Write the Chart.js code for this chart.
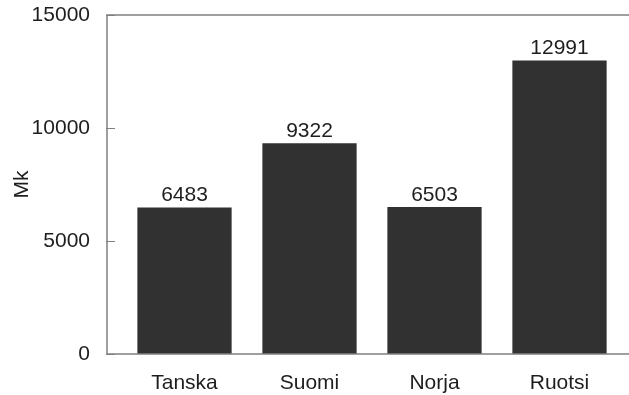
<!DOCTYPE html>
<html>
<head>
<meta charset="utf-8">
<script src="https://cdn.jsdelivr.net/npm/chart.js@4/dist/chart.umd.min.js"></script>
<style>
  html, body { margin: 0; padding: 0; background: #fff; }
  #wrap { width: 629px; height: 395px; }
</style>
</head>
<body>
<div id="wrap"><canvas id="c" width="629" height="395"></canvas></div>
<script>
// Data
const categories = ['Tanska', 'Suomi', 'Norja', 'Ruotsi'];
const values = [6483, 9322, 6503, 12991];
const yTicks = [0, 5000, 10000, 15000];
const yTitle = 'Mk';

const FONT = "'Liberation Sans', Arial, Helvetica, sans-serif";
const TEXT = '#1e1e1e';
const FRAME = '#808080';

// Frame (left, top, bottom lines) plus short inward tick marks
const framePlugin = {
  id: 'frame',
  afterDatasetsDraw(chart) {
    const { ctx, chartArea: a, scales } = chart;
    ctx.save();
    ctx.strokeStyle = FRAME;
    ctx.lineWidth = 1.5;
    ctx.beginPath();
    ctx.moveTo(a.right, a.top);
    ctx.lineTo(a.left, a.top);
    ctx.lineTo(a.left, a.bottom);
    ctx.lineTo(a.right, a.bottom);
    ctx.stroke();
    ctx.lineWidth = 1;
    yTicks.forEach(v => {
      const y = Math.round(scales.y.getPixelForValue(v)) + 0.5;
      ctx.beginPath();
      ctx.moveTo(a.left - 1, y);
      ctx.lineTo(a.left + 8, y);
      ctx.stroke();
    });
    ctx.restore();
  }
};

// Value labels above each bar
const valueLabels = {
  id: 'valueLabels',
  afterDatasetsDraw(chart) {
    const { ctx } = chart;
    const meta = chart.getDatasetMeta(0);
    ctx.save();
    ctx.font = '21px ' + FONT;
    ctx.fillStyle = TEXT;
    ctx.textAlign = 'center';
    ctx.textBaseline = 'alphabetic';
    meta.data.forEach((bar, i) => {
      ctx.fillText(String(values[i]), bar.x, bar.y - 6);
    });
    ctx.restore();
  }
};

new Chart(document.getElementById('c'), {
  type: 'bar',
  data: {
    datasets: [{
      data: values.map((v, i) => ({ x: i, y: v })),
      backgroundColor: '#313131',
      borderWidth: 0,
      barPercentage: 0.754,
      categoryPercentage: 1
    }]
  },
  options: {
    responsive: false,
    animation: false,
    events: [],
    layout: { autoPadding: false, padding: { top: 15, right: 0, left: 0, bottom: 0 } },
    plugins: { legend: { display: false }, tooltip: { enabled: false } },
    scales: {
      x: {
        type: 'linear',
        min: -0.62,
        max: 3.556,
        offset: false,
        afterBuildTicks(scale) { scale.ticks = categories.map((_, i) => ({ value: i })); },
        afterFit(scale) {
          scale.height = 41;
          scale.paddingLeft = 0; scale.paddingRight = 0;
        },
        grid: { display: false, drawTicks: false },
        border: { display: false },
        ticks: {
          autoSkip: false,
          maxRotation: 0,
          padding: 17,
          color: TEXT,
          font: { family: FONT, size: 21 },
          callback: v => categories[v]
        }
      },
      y: {
        min: 0,
        max: 15000,
        afterBuildTicks(scale) { scale.ticks = yTicks.map(v => ({ value: v })); },
        afterFit(scale) {
          scale.width = 107;
          scale.paddingTop = 0; scale.paddingBottom = 0;
        },
        grid: { display: false, drawTicks: false },
        border: { display: false },
        ticks: {
          padding: 17,
          color: TEXT,
          font: { family: FONT, size: 21 },
          callback: v => String(v)
        },
        title: {
          display: true,
          text: yTitle,
          color: TEXT,
          font: { family: FONT, size: 21 },
          padding: { top: 10, bottom: 0 }
        }
      }
    }
  },
  plugins: [framePlugin, valueLabels]
});
</script>
</body>
</html>
